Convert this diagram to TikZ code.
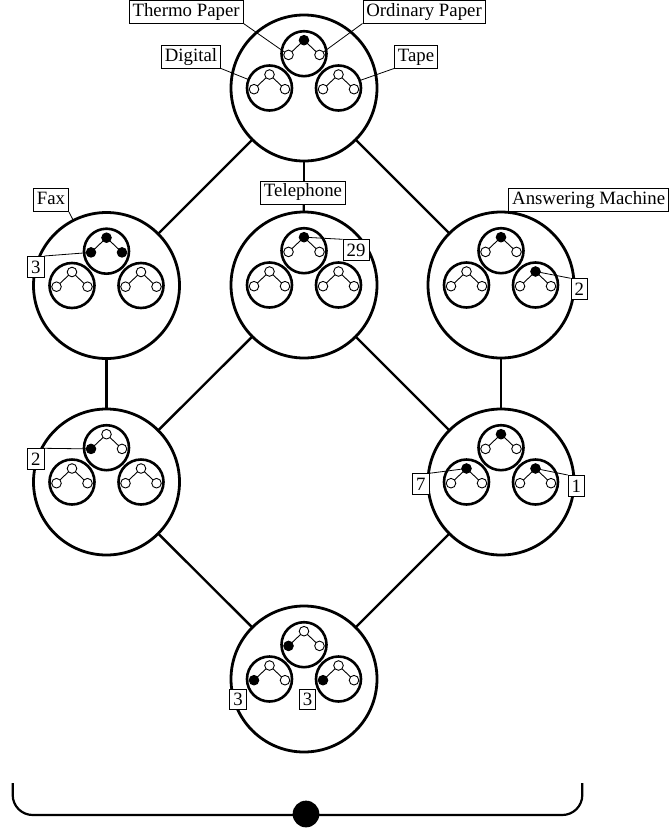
\documentclass[tikz,border=0pt]{standalone}
\usepackage{fontspec}
\setmainfont{Liberation Serif}
\newcommand\tri[5]{\begin{scope}[shift={(#2)}]
  \node[innerc] (#1) at (0,0) {};
  \node[#3] (#1t) at (0,-13.5) {};
  \node[#4] (#1l) at (-15.5,1.2) {};
  \node[#5] (#1r) at (15.5,1.2) {};
  \draw[treeedge] (#1t) -- (#1l) (#1t) -- (#1r);
\end{scope}}
\begin{document}
\begin{tikzpicture}[x=1pt,y=-1pt,
  bigc/.style={circle,draw,fill=white,line width=2.8pt,minimum size=146pt,inner sep=0pt,outer sep=0pt},
  innerc/.style={circle,draw,fill=white,line width=2.6pt,minimum size=45pt,inner sep=0pt,outer sep=0pt},
  wn/.style={circle,draw,fill=white,line width=0.9pt,minimum size=9.6pt,inner sep=0pt,outer sep=0pt},
  bn/.style={wn,fill=black},
  treeedge/.style={line width=0.9pt},
  conn/.style={line width=2.4pt},
  lbl/.style={draw,fill=white,line width=0.8pt,inner xsep=3.5pt,inner ysep=2.8pt,text height=13pt,text depth=4.3pt,font=\fontsize{18.8}{22}\selectfont},
  num/.style={lbl,text height=12.7pt,text depth=0pt,inner ysep=4pt},
  leader/.style={line width=0.8pt}]
\useasboundingbox (0,0) rectangle (671,833);

% big circles
\node[bigc] (T)  at (304,88) {};
\node[bigc] (F)  at (106.5,285.5) {};
\node[bigc] (P)  at (304,285) {};
\node[bigc] (A)  at (501,285) {};
\node[bigc] (LL) at (106.5,482) {};
\node[bigc] (LR) at (501,482) {};
\node[bigc] (B)  at (304,679) {};

% connectors
\draw[conn] (T) -- (F);
\draw[conn] (T) -- (P);
\draw[conn] (T) -- (A);
\draw[conn] (F) -- (LL);
\draw[conn] (P) -- (LL);
\draw[conn] (P) -- (LR);
\draw[conn] (A) -- (LR);
\draw[conn] (LL) -- (B);
\draw[conn] (LR) -- (B);

% inner circles
\begin{scope}[shift={(304,88)}]
\tri{T1}{0,-34.3}{bn}{wn}{wn}
\tri{T2}{-34.5,0}{wn}{wn}{wn}
\tri{T3}{34.5,0}{wn}{wn}{wn}
\end{scope}
\begin{scope}[shift={(106.5,285.5)}]
\tri{F1}{0,-34.3}{bn}{bn}{bn}
\tri{F2}{-34.5,0}{wn}{wn}{wn}
\tri{F3}{34.5,0}{wn}{wn}{wn}
\end{scope}
\begin{scope}[shift={(304,285)}]
\tri{P1}{0,-34.3}{bn}{wn}{wn}
\tri{P2}{-34.5,0}{wn}{wn}{wn}
\tri{P3}{34.5,0}{wn}{wn}{wn}
\end{scope}
\begin{scope}[shift={(501,285)}]
\tri{A1}{0,-34.3}{bn}{wn}{wn}
\tri{A2}{-34.5,0}{wn}{wn}{wn}
\tri{A3}{34.5,0}{bn}{wn}{wn}
\end{scope}
\begin{scope}[shift={(106.5,482)}]
\tri{L1}{0,-34.3}{wn}{bn}{wn}
\tri{L2}{-34.5,0}{wn}{wn}{wn}
\tri{L3}{34.5,0}{wn}{wn}{wn}
\end{scope}
\begin{scope}[shift={(501,482)}]
\tri{R1}{0,-34.3}{bn}{wn}{wn}
\tri{R2}{-34.5,0}{bn}{wn}{wn}
\tri{R3}{34.5,0}{bn}{wn}{wn}
\end{scope}
\begin{scope}[shift={(304,679)}]
\tri{B1}{0,-34.3}{wn}{bn}{wn}
\tri{B2}{-34.5,0}{wn}{bn}{wn}
\tri{B3}{34.5,0}{wn}{bn}{wn}
\end{scope}

% labels
\node[lbl,anchor=south east] (lThermo) at (243.5,23.5) {Thermo Paper};
\draw[leader] (lThermo.south east) -- (T1l);
\node[lbl,anchor=south west] (lOrd) at (362.5,23.5) {Ordinary Paper};
\draw[leader] (lOrd.south west) -- (T1r);
\node[lbl,anchor=south east] (lDig) at (221,68.5) {Digital};
\draw[leader] (lDig.south east) -- (T2);
\node[lbl,anchor=south west] (lTape) at (394,68.5) {Tape};
\draw[leader] (lTape.south west) -- (T3);

\node[lbl,anchor=south east] (lFax) at (69,212) {Fax};
\draw[leader] (lFax.south east) -- (F);
\node[num,anchor=north east] (lF3) at (44.3,256) {3};
\draw[leader] (lF3.north east) -- (F1l);

\node[lbl,anchor=south] (lTel) at (303,204.3) {Telephone};
\draw[leader] (lTel.south) -- (P);
\node[num,anchor=north west] (lP29) at (342.7,239.3) {29};
\draw[leader] (lP29.north west) -- (P1t);

\node[lbl,anchor=south west] (lAns) at (508.3,211.7) {Answering Machine};
\draw[leader] (lAns.south west) -- (A);
\node[num,anchor=north west] (lA2) at (570.7,278.3) {2};
\draw[leader] (lA2.north west) -- (A3t);

\node[num,anchor=north east] (lL2) at (44.3,448.3) {2};
\draw[leader] (lL2.north east) -- (L1l);

\node[num,anchor=north east] (lR7) at (429.3,473.3) {7};
\draw[leader] (lR7.north east) -- (R2t);
\node[num,anchor=north west] (lR1) at (567.7,475) {1};
\draw[leader] (lR1.north west) -- (R3t);

\node[num] (lB3a) at (238,699.5) {3};
\node[num] (lB3b) at (307.5,699.5) {3};

% brace with dot
\coordinate (brL) at (12.7,783);
\coordinate (brR) at (582.3,783);
\draw[conn,line width=2.2pt,rounded corners=20pt] (brL) -- (12.7,815) -- (582.3,815) -- (brR);
\node[circle,fill=black,minimum size=26.7pt,inner sep=0pt] (dot) at (306,814) {};
\end{tikzpicture}
\end{document}
